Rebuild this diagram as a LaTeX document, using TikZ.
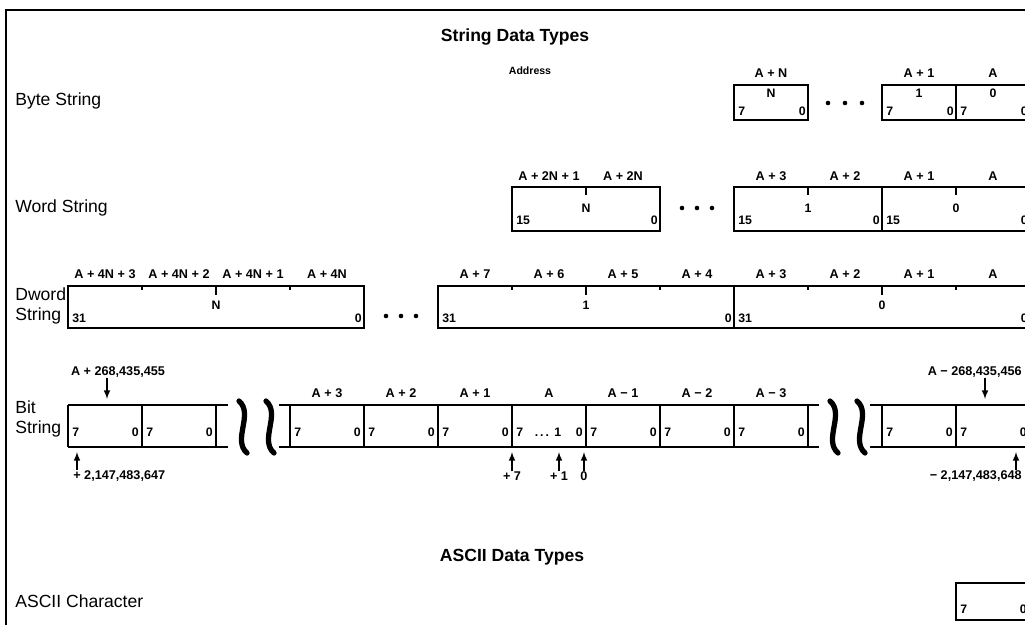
\documentclass[tikz,border=0pt]{standalone}
\usepackage{fontspec}
\setmainfont{Liberation Sans}

\begin{document}
\begin{tikzpicture}[x=0.02cm, y=-0.02cm,
  addr/.style={font=\fontsize{7.2}{8}\selectfont\bfseries, inner sep=0pt},
  bitno/.style={font=\fontsize{7}{8}\selectfont\bfseries, inner sep=0pt},
  rowname/.style={font=\fontsize{10}{11.5}\selectfont, inner sep=0pt, anchor=west, align=left},
  heading/.style={font=\fontsize{10}{12}\selectfont\bfseries, inner sep=0pt},
  cell/.style={line width=0.9pt},
  squiggle/.style={line width=3pt, line cap=round},
  ptr/.style={-latex, line width=0.7pt}]
  \useasboundingbox (0,0) rectangle (1025,625);
  \clip (0,0) rectangle (1025,625);
  \draw[line width=1.1pt] (6,625) -- (6,10) -- (1025,10);

  \node[heading] (strtitle) at (515,37) {String Data Types};
  \node[addr, font=\fontsize{6}{7}\selectfont\bfseries] (address) at (530,71) {Address};

  % byte string
  \node[rowname] (byterow) at (15,101) {Byte String};
  \draw[cell] (734,85) rectangle (808,120);
  \draw[cell] (882,85) rectangle (1030,120) (956,85) -- (956,120);
  \foreach \x/\t [count=\i] in {771/A + N, 919/A + 1, 993/A}
    \node[addr] (bytelab\i) at (\x,73) {\t};
  \foreach \x/\t in {771/N, 919/1, 993/0}
    \node[bitno] at (\x,93) {\t};
  \foreach \l in {734,882,956}{
    \node[bitno, anchor=west] at (\l+4,111) {7};
    \node[bitno, anchor=east] at (\l+72,111) {0};
  }
  \foreach \x in {-17,0,17} \fill (845+\x,103) circle (2.3);

  % word string
  \node[rowname] (wordrow) at (15,208) {Word String};
  \draw[cell] (512,187) rectangle (660,231);
  \draw[cell] (734,187) rectangle (1030,231) (882,187) -- (882,231);
  \foreach \x in {586,808,956} \draw[cell] (\x,187) -- (\x,195);
  \foreach \x/\t [count=\i] in {549/A + 2N + 1, 623/A + 2N, 771/A + 3, 845/A + 2, 919/A + 1, 993/A}
    \node[addr] (wordlab\i) at (\x,176) {\t};
  \foreach \x/\t in {586/N, 808/1, 956/0}
    \node[bitno] at (\x,208) {\t};
  \foreach \l in {512,734,882}{
    \node[bitno, anchor=west] at (\l+4,220) {15};
    \node[bitno, anchor=east] at (\l+146,220) {0};
  }
  \foreach \x in {-15,0,15} \fill (697+\x,208) circle (2.3);

  % dword string
  \node[rowname] (dwordrow) at (15,306) {Dword\\String};
  \draw[cell] (68,286) rectangle (364,328);
  \draw[cell] (438,286) rectangle (1030,328) (734,286) -- (734,328);
  \foreach \x in {142,290,512,660,808,956} \draw[cell] (\x,286) -- (\x,290);
  \foreach \x in {216,586,882} \draw[cell] (\x,286) -- (\x,295);
  \foreach \x/\t [count=\i] in {105/A + 4N + 3, 179/A + 4N + 2, 253/A + 4N + 1, 327/A + 4N,
      475/A + 7, 549/A + 6, 623/A + 5, 697/A + 4, 771/A + 3, 845/A + 2, 919/A + 1, 993/A}
    \node[addr] (dwordlab\i) at (\x,274) {\t};
  \foreach \x/\t in {216/N, 586/1, 882/0}
    \node[bitno] at (\x,305) {\t};
  \foreach \l in {68,438,734}{
    \node[bitno, anchor=west] at (\l+4,318) {31};
    \node[bitno, anchor=east] at (\l+294,318) {0};
  }
  \foreach \x in {-15,0,15} \fill (401+\x,316) circle (2.3);

  % bit string
  \node[rowname] (bitrow) at (15,419) {Bit\\String};
  \draw[cell] (68,405) -- (228,405) (68,447) -- (228,447);
  \draw[cell] (279,405) -- (819,405) (279,447) -- (819,447);
  \draw[cell] (870,405) -- (1030,405) (870,447) -- (1030,447);
  \foreach \x in {68,142,216,290,364,...,808,882,956}
    \draw[cell] (\x,405) -- (\x,447);
  \foreach \l in {68,142,290,364,...,734,882,956}{
    \node[bitno, anchor=west] at (\l+4,432) {7};
    \node[bitno, anchor=east] at (\l+71,432) {0};
  }
  \node[bitno] (dots1) at (548,432) {.\,.\,.\hspace{3pt}1};
  \foreach \x in {243,270,834,861}
    \draw[squiggle] (\x-4,401) .. controls (\x+11,414) and (\x-11,440) .. (\x+4,453);
  \foreach \t [count=\i] in {A + 3, A + 2, A + 1, A, A − 1, A − 2, A − 3}
    \node[addr] (bitlab\i) at ({253+74*\i},393) {\t};

  % end pointers
  \node[addr] (hiaddr) at (118,372) {A + 268,435,455};
  \coordinate (hibyte) at (107,399);
  \draw[ptr] (hiaddr.south -| hibyte) -- (hibyte);
  \node[addr, anchor=west] (hibit) at (73,476) {+ 2,147,483,647};
  \coordinate (hibitpos) at (77,452);
  \draw[ptr] (hibit.north -| hibitpos) -- (hibitpos);

  \node[addr, anchor=east] (loaddr) at (1022,372) {A − 268,435,456};
  \coordinate (lobyte) at (985,399);
  \draw[ptr] (loaddr.south -| lobyte) -- (lobyte);
  \node[addr, anchor=east] (lobit) at (1022,476) {− 2,147,483,648};
  \coordinate (lobitpos) at (1016,452);
  \draw[ptr] (lobit.north -| lobitpos) -- (lobitpos);

  \foreach \x/\t [count=\i] in {512/+ 7, 559/+ 1, 584/0}{
    \node[addr] (ofs\i) at (\x,476) {\t};
    \coordinate (ofspos\i) at (\x,452);
    \draw[ptr] (ofs\i.north) -- (ofspos\i);
  }

  % ascii
  \node[heading] (asciititle) at (512,557) {ASCII Data Types};
  \node[rowname] (asciirow) at (15,601) {ASCII Character};
  \draw[cell] (956,583) rectangle (1030,620);
  \node[bitno, anchor=west] at (960,609) {7};
  \node[bitno, anchor=east] at (1027,609) {0};
\end{tikzpicture}
\end{document}
